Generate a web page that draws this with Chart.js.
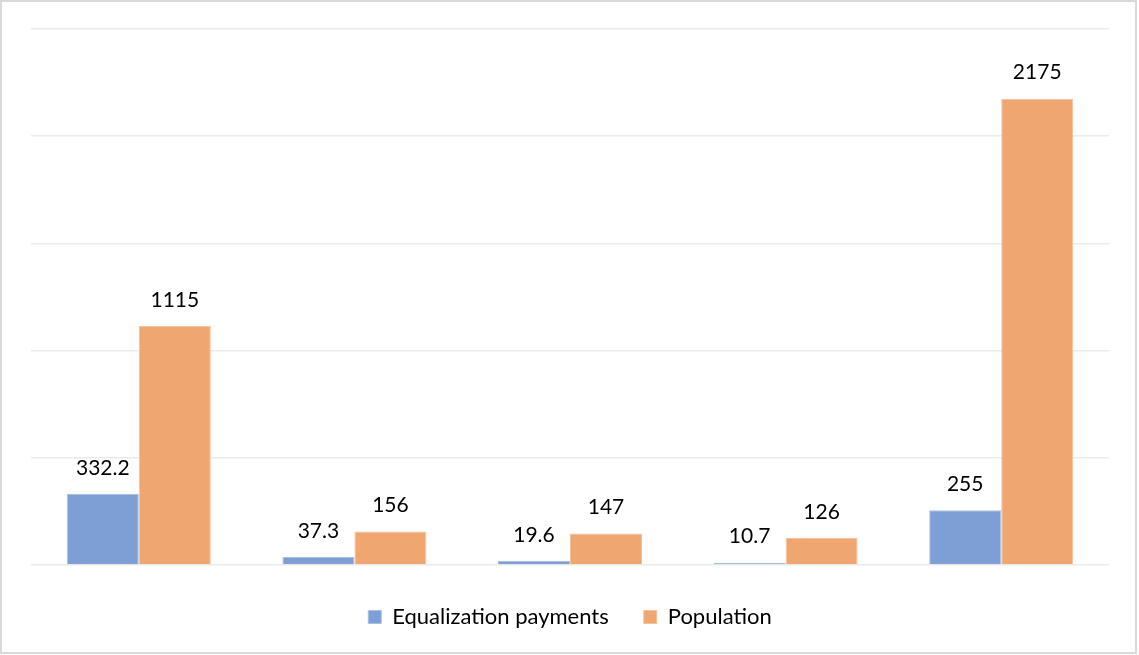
<!DOCTYPE html>
<html><head><meta charset="utf-8">
<script src="https://cdn.jsdelivr.net/npm/chart.js@4/dist/chart.umd.min.js"></script>
<style>html,body{margin:0;padding:0;background:#fff}#wrap{width:1139px;height:655px;position:relative}</style>
</head><body><div id="wrap"><canvas id="c" width="1139" height="655"></canvas></div>
<script>
const categories = ["", "", "", "", ""];
const equalizationPayments = [332.2, 37.3, 19.6, 10.7, 255];
const population = [1115, 156, 147, 126, 2175];
const seriesNames = ["Equalization payments", "Population"];
const yTicks = [0, 500, 1000, 1500, 2000, 2500];

const FONT = "Lato, 'Open Sans', sans-serif";

const labelPlugin = {
  id: 'labels',
  afterDatasetsDraw(chart) {
    const ctx = chart.ctx;
    ctx.save();
    ctx.font = "21px " + FONT;
    ctx.fillStyle = '#000';
    ctx.textAlign = 'center';
    ctx.textBaseline = 'middle';
    chart.data.datasets.forEach((ds, i) => {
      chart.getDatasetMeta(i).data.forEach((bar, j) => {
        ctx.fillText(String(ds.data[j]), bar.x, bar.y - 26);
      });
    });
    ctx.restore();
  }
};
const framePlugin = {
  id: 'frame',
  afterDraw(chart) {
    const ctx = chart.ctx;
    ctx.save();
    ctx.strokeStyle = '#d9d9d9';
    ctx.lineWidth = 2;
    ctx.strokeRect(1, 1, 1135, 652);
    ctx.restore();
  }
};

new Chart(document.getElementById('c'), {
  type: 'bar',
  data: {
    labels: categories,
    datasets: [
      { label: seriesNames[0], data: equalizationPayments, backgroundColor: '#7d9fd6', borderColor: '#a9bfe6', borderWidth: 1,
        categoryPercentage: 0.668, barPercentage: 1 },
      { label: seriesNames[1], data: population, backgroundColor: '#f0a670', borderColor: '#f5c29e', borderWidth: 1,
        categoryPercentage: 0.668, barPercentage: 1 }
    ]
  },
  options: {
    responsive: false,
    animation: false,
    layout: { padding: { left: 31, right: 30, top: 29, bottom: 17 } },
    scales: {
      x: {
        display: true,
        ticks: { display: false },
        grid: { display: false },
        border: { display: false },
        afterFit(scale) { scale.height = 6; }
      },
      y: {
        min: 0, max: 2500,
        afterBuildTicks(scale) { scale.ticks = yTicks.map(v => ({ value: v })); },
        ticks: { display: false },
        grid: { color: '#ebebeb', lineWidth: 1.5, drawTicks: false },
        border: { display: false }
      }
    },
    plugins: {
      legend: {
        position: 'bottom',
        labels: {
          font: { family: FONT, size: 22 },
          color: '#000',
          boxWidth: 13,
          boxHeight: 13,
          padding: 35
        }
      },
      tooltip: { enabled: false }
    }
  },
  plugins: [labelPlugin, framePlugin]
});
</script></body></html>
